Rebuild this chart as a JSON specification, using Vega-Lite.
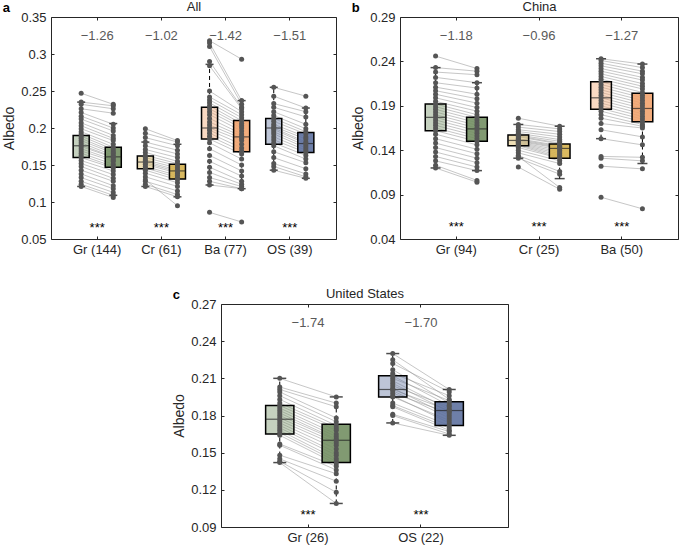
{
"$schema":"https://vega.github.io/schema/vega-lite/v6.json",
"padding":{"left":2,"top":0,"right":0,"bottom":0},
"config":{"font":"Liberation Sans","view":{"stroke":"#262626","strokeWidth":1},
"axis":{"grid":false,"domain":false,"labelFontSize":13,"titleFontSize":14,"titleFontWeight":"normal","labelColor":"#262626","titleColor":"#262626","tickColor":"#262626","tickSize":-3,"labelPadding":8},
"title":{"fontSize":13,"fontWeight":"bold","color":"#000"}},
"datasets":{
"ptsA":[
{"g":"Gr (144)","i":1,"Before":0.247,"After":0.232},{"g":"Gr (144)","i":2,"Before":0.235,"After":0.230},{"g":"Gr (144)","i":3,"Before":0.232,"After":0.226},{"g":"Gr (144)","i":4,"Before":0.226,"After":0.220},{"g":"Gr (144)","i":5,"Before":0.221,"After":0.205},{"g":"Gr (144)","i":6,"Before":0.216,"After":0.200},{"g":"Gr (144)","i":7,"Before":0.212,"After":0.196},{"g":"Gr (144)","i":8,"Before":0.207,"After":0.190},{"g":"Gr (144)","i":9,"Before":0.203,"After":0.186},{"g":"Gr (144)","i":10,"Before":0.199,"After":0.183},{"g":"Gr (144)","i":11,"Before":0.195,"After":0.178},{"g":"Gr (144)","i":12,"Before":0.192,"After":0.174},{"g":"Gr (144)","i":13,"Before":0.189,"After":0.171},{"g":"Gr (144)","i":14,"Before":0.186,"After":0.168},{"g":"Gr (144)","i":15,"Before":0.183,"After":0.166},{"g":"Gr (144)","i":16,"Before":0.180,"After":0.163},{"g":"Gr (144)","i":17,"Before":0.177,"After":0.161},{"g":"Gr (144)","i":18,"Before":0.175,"After":0.160},{"g":"Gr (144)","i":19,"Before":0.172,"After":0.157},{"g":"Gr (144)","i":20,"Before":0.169,"After":0.155},{"g":"Gr (144)","i":21,"Before":0.166,"After":0.151},{"g":"Gr (144)","i":22,"Before":0.163,"After":0.148},{"g":"Gr (144)","i":23,"Before":0.160,"After":0.146},{"g":"Gr (144)","i":24,"Before":0.156,"After":0.142},{"g":"Gr (144)","i":25,"Before":0.152,"After":0.137},{"g":"Gr (144)","i":26,"Before":0.148,"After":0.132},{"g":"Gr (144)","i":27,"Before":0.143,"After":0.128},{"g":"Gr (144)","i":28,"Before":0.138,"After":0.122},{"g":"Gr (144)","i":29,"Before":0.133,"After":0.118},{"g":"Gr (144)","i":30,"Before":0.128,"After":0.113},{"g":"Gr (144)","i":31,"Before":0.124,"After":0.109},{"g":"Gr (144)","i":32,"Before":0.121,"After":0.106},
{"g":"Cr (61)","i":1,"Before":0.199,"After":0.183},{"g":"Cr (61)","i":2,"Before":0.193,"After":0.181},{"g":"Cr (61)","i":3,"Before":0.187,"After":0.176},{"g":"Cr (61)","i":4,"Before":0.181,"After":0.170},{"g":"Cr (61)","i":5,"Before":0.176,"After":0.165},{"g":"Cr (61)","i":6,"Before":0.171,"After":0.160},{"g":"Cr (61)","i":7,"Before":0.167,"After":0.155},{"g":"Cr (61)","i":8,"Before":0.163,"After":0.152},{"g":"Cr (61)","i":9,"Before":0.160,"After":0.149},{"g":"Cr (61)","i":10,"Before":0.157,"After":0.146},{"g":"Cr (61)","i":11,"Before":0.155,"After":0.143},{"g":"Cr (61)","i":12,"Before":0.153,"After":0.141},{"g":"Cr (61)","i":13,"Before":0.151,"After":0.139},{"g":"Cr (61)","i":14,"Before":0.148,"After":0.136},{"g":"Cr (61)","i":15,"Before":0.146,"After":0.133},{"g":"Cr (61)","i":16,"Before":0.143,"After":0.130},{"g":"Cr (61)","i":17,"Before":0.139,"After":0.126},{"g":"Cr (61)","i":18,"Before":0.134,"After":0.121},{"g":"Cr (61)","i":19,"Before":0.128,"After":0.115},{"g":"Cr (61)","i":20,"Before":0.124,"After":0.110},{"g":"Cr (61)","i":21,"Before":0.121,"After":0.107},{"g":"Cr (61)","i":22,"Before":0.130,"After":0.095},
{"g":"Ba (77)","i":1,"Before":0.318,"After":0.293},{"g":"Ba (77)","i":2,"Before":0.315,"After":0.237},{"g":"Ba (77)","i":3,"Before":0.310,"After":0.232},{"g":"Ba (77)","i":4,"Before":0.290,"After":0.228},{"g":"Ba (77)","i":5,"Before":0.284,"After":0.226},{"g":"Ba (77)","i":6,"Before":0.250,"After":0.222},{"g":"Ba (77)","i":7,"Before":0.242,"After":0.218},{"g":"Ba (77)","i":8,"Before":0.238,"After":0.214},{"g":"Ba (77)","i":9,"Before":0.234,"After":0.210},{"g":"Ba (77)","i":10,"Before":0.230,"After":0.206},{"g":"Ba (77)","i":11,"Before":0.226,"After":0.203},{"g":"Ba (77)","i":12,"Before":0.222,"After":0.200},{"g":"Ba (77)","i":13,"Before":0.218,"After":0.196},{"g":"Ba (77)","i":14,"Before":0.213,"After":0.192},{"g":"Ba (77)","i":15,"Before":0.208,"After":0.189},{"g":"Ba (77)","i":16,"Before":0.204,"After":0.186},{"g":"Ba (77)","i":17,"Before":0.200,"After":0.183},{"g":"Ba (77)","i":18,"Before":0.197,"After":0.178},{"g":"Ba (77)","i":19,"Before":0.193,"After":0.173},{"g":"Ba (77)","i":20,"Before":0.189,"After":0.169},{"g":"Ba (77)","i":21,"Before":0.185,"After":0.165},{"g":"Ba (77)","i":22,"Before":0.180,"After":0.158},{"g":"Ba (77)","i":23,"Before":0.172,"After":0.150},{"g":"Ba (77)","i":24,"Before":0.163,"After":0.142},{"g":"Ba (77)","i":25,"Before":0.155,"After":0.135},{"g":"Ba (77)","i":26,"Before":0.147,"After":0.128},{"g":"Ba (77)","i":27,"Before":0.140,"After":0.124},{"g":"Ba (77)","i":28,"Before":0.133,"After":0.121},{"g":"Ba (77)","i":29,"Before":0.128,"After":0.118},{"g":"Ba (77)","i":30,"Before":0.123,"After":0.118},{"g":"Ba (77)","i":31,"Before":0.086,"After":0.073},
{"g":"OS (39)","i":1,"Before":0.255,"After":0.243},{"g":"OS (39)","i":2,"Before":0.243,"After":0.227},{"g":"OS (39)","i":3,"Before":0.233,"After":0.222},{"g":"OS (39)","i":4,"Before":0.228,"After":0.215},{"g":"OS (39)","i":5,"Before":0.222,"After":0.205},{"g":"OS (39)","i":6,"Before":0.217,"After":0.199},{"g":"OS (39)","i":7,"Before":0.213,"After":0.195},{"g":"OS (39)","i":8,"Before":0.209,"After":0.192},{"g":"OS (39)","i":9,"Before":0.205,"After":0.188},{"g":"OS (39)","i":10,"Before":0.202,"After":0.185},{"g":"OS (39)","i":11,"Before":0.200,"After":0.181},{"g":"OS (39)","i":12,"Before":0.198,"After":0.179},{"g":"OS (39)","i":13,"Before":0.195,"After":0.176},{"g":"OS (39)","i":14,"Before":0.192,"After":0.173},{"g":"OS (39)","i":15,"Before":0.188,"After":0.170},{"g":"OS (39)","i":16,"Before":0.184,"After":0.167},{"g":"OS (39)","i":17,"Before":0.180,"After":0.163},{"g":"OS (39)","i":18,"Before":0.176,"After":0.158},{"g":"OS (39)","i":19,"Before":0.168,"After":0.153},{"g":"OS (39)","i":20,"Before":0.160,"After":0.145},{"g":"OS (39)","i":21,"Before":0.152,"After":0.138},{"g":"OS (39)","i":22,"Before":0.148,"After":0.134},{"g":"OS (39)","i":23,"Before":0.143,"After":0.132}
],
"boxA":[
{"g":"Gr (144)","cat":"Gr","period":"Before","lo":0.121,"q1":0.160,"med":0.176,"q3":0.190,"hi":0.235},
{"g":"Gr (144)","cat":"Gr","period":"After","lo":0.109,"q1":0.147,"med":0.161,"q3":0.174,"hi":0.206},
{"g":"Cr (61)","cat":"Cr","period":"Before","lo":0.121,"q1":0.145,"med":0.154,"q3":0.162,"hi":0.181},
{"g":"Cr (61)","cat":"Cr","period":"After","lo":0.107,"q1":0.131,"med":0.142,"q3":0.151,"hi":0.178},
{"g":"Ba (77)","cat":"Ba","period":"Before","lo":0.123,"q1":0.185,"med":0.200,"q3":0.228,"hi":0.286},
{"g":"Ba (77)","cat":"Ba","period":"After","lo":0.118,"q1":0.168,"med":0.188,"q3":0.210,"hi":0.237},
{"g":"OS (39)","cat":"OS","period":"Before","lo":0.143,"q1":0.178,"med":0.200,"q3":0.213,"hi":0.255},
{"g":"OS (39)","cat":"OS","period":"After","lo":0.132,"q1":0.167,"med":0.179,"q3":0.194,"hi":0.227}
],
"labA":[{"g":"Gr (144)","d":"−1.26","s":"***"},{"g":"Cr (61)","d":"−1.02","s":"***"},{"g":"Ba (77)","d":"−1.42","s":"***"},{"g":"OS (39)","d":"−1.51","s":"***"}],
"ptsB":[
{"g":"Gr (94)","i":1,"Before":0.246,"After":0.232},{"g":"Gr (94)","i":2,"Before":0.233,"After":0.229},{"g":"Gr (94)","i":3,"Before":0.228,"After":0.225},{"g":"Gr (94)","i":4,"Before":0.222,"After":0.216},{"g":"Gr (94)","i":5,"Before":0.216,"After":0.210},{"g":"Gr (94)","i":6,"Before":0.211,"After":0.203},{"g":"Gr (94)","i":7,"Before":0.207,"After":0.198},{"g":"Gr (94)","i":8,"Before":0.203,"After":0.193},{"g":"Gr (94)","i":9,"Before":0.199,"After":0.188},{"g":"Gr (94)","i":10,"Before":0.195,"After":0.184},{"g":"Gr (94)","i":11,"Before":0.192,"After":0.180},{"g":"Gr (94)","i":12,"Before":0.189,"After":0.177},{"g":"Gr (94)","i":13,"Before":0.186,"After":0.174},{"g":"Gr (94)","i":14,"Before":0.183,"After":0.171},{"g":"Gr (94)","i":15,"Before":0.180,"After":0.168},{"g":"Gr (94)","i":16,"Before":0.177,"After":0.165},{"g":"Gr (94)","i":17,"Before":0.174,"After":0.162},{"g":"Gr (94)","i":18,"Before":0.171,"After":0.159},{"g":"Gr (94)","i":19,"Before":0.168,"After":0.156},{"g":"Gr (94)","i":20,"Before":0.165,"After":0.153},{"g":"Gr (94)","i":21,"Before":0.162,"After":0.150},{"g":"Gr (94)","i":22,"Before":0.158,"After":0.146},{"g":"Gr (94)","i":23,"Before":0.153,"After":0.141},{"g":"Gr (94)","i":24,"Before":0.148,"After":0.136},{"g":"Gr (94)","i":25,"Before":0.143,"After":0.131},{"g":"Gr (94)","i":26,"Before":0.138,"After":0.126},{"g":"Gr (94)","i":27,"Before":0.133,"After":0.121},{"g":"Gr (94)","i":28,"Before":0.128,"After":0.117},{"g":"Gr (94)","i":29,"Before":0.123,"After":0.106},{"g":"Gr (94)","i":30,"Before":0.120,"After":0.104},
{"g":"Cr (25)","i":1,"Before":0.176,"After":0.167},{"g":"Cr (25)","i":2,"Before":0.169,"After":0.164},{"g":"Cr (25)","i":3,"Before":0.166,"After":0.161},{"g":"Cr (25)","i":4,"Before":0.163,"After":0.158},{"g":"Cr (25)","i":5,"Before":0.161,"After":0.155},{"g":"Cr (25)","i":6,"Before":0.159,"After":0.152},{"g":"Cr (25)","i":7,"Before":0.157,"After":0.150},{"g":"Cr (25)","i":8,"Before":0.156,"After":0.148},{"g":"Cr (25)","i":9,"Before":0.155,"After":0.147},{"g":"Cr (25)","i":10,"Before":0.153,"After":0.145},{"g":"Cr (25)","i":11,"Before":0.152,"After":0.144},{"g":"Cr (25)","i":12,"Before":0.151,"After":0.143},{"g":"Cr (25)","i":13,"Before":0.150,"After":0.142},{"g":"Cr (25)","i":14,"Before":0.149,"After":0.140},{"g":"Cr (25)","i":15,"Before":0.148,"After":0.138},{"g":"Cr (25)","i":16,"Before":0.147,"After":0.136},{"g":"Cr (25)","i":17,"Before":0.146,"After":0.134},{"g":"Cr (25)","i":18,"Before":0.145,"After":0.132},{"g":"Cr (25)","i":19,"Before":0.143,"After":0.131},{"g":"Cr (25)","i":20,"Before":0.140,"After":0.128},{"g":"Cr (25)","i":21,"Before":0.137,"After":0.125},{"g":"Cr (25)","i":22,"Before":0.134,"After":0.116},{"g":"Cr (25)","i":23,"Before":0.131,"After":0.113},{"g":"Cr (25)","i":24,"Before":0.133,"After":0.098},{"g":"Cr (25)","i":25,"Before":0.121,"After":0.096},
{"g":"Ba (50)","i":1,"Before":0.243,"After":0.237},{"g":"Ba (50)","i":2,"Before":0.241,"After":0.233},{"g":"Ba (50)","i":3,"Before":0.238,"After":0.229},{"g":"Ba (50)","i":4,"Before":0.235,"After":0.226},{"g":"Ba (50)","i":5,"Before":0.232,"After":0.222},{"g":"Ba (50)","i":6,"Before":0.229,"After":0.219},{"g":"Ba (50)","i":7,"Before":0.226,"After":0.215},{"g":"Ba (50)","i":8,"Before":0.223,"After":0.212},{"g":"Ba (50)","i":9,"Before":0.220,"After":0.209},{"g":"Ba (50)","i":10,"Before":0.217,"After":0.205},{"g":"Ba (50)","i":11,"Before":0.214,"After":0.202},{"g":"Ba (50)","i":12,"Before":0.211,"After":0.199},{"g":"Ba (50)","i":13,"Before":0.208,"After":0.196},{"g":"Ba (50)","i":14,"Before":0.205,"After":0.193},{"g":"Ba (50)","i":15,"Before":0.202,"After":0.190},{"g":"Ba (50)","i":16,"Before":0.199,"After":0.187},{"g":"Ba (50)","i":17,"Before":0.196,"After":0.184},{"g":"Ba (50)","i":18,"Before":0.193,"After":0.181},{"g":"Ba (50)","i":19,"Before":0.190,"After":0.178},{"g":"Ba (50)","i":20,"Before":0.187,"After":0.175},{"g":"Ba (50)","i":21,"Before":0.184,"After":0.172},{"g":"Ba (50)","i":22,"Before":0.180,"After":0.169},{"g":"Ba (50)","i":23,"Before":0.176,"After":0.167},{"g":"Ba (50)","i":24,"Before":0.170,"After":0.165},{"g":"Ba (50)","i":25,"Before":0.163,"After":0.155},{"g":"Ba (50)","i":26,"Before":0.153,"After":0.146},{"g":"Ba (50)","i":27,"Before":0.133,"After":0.132},{"g":"Ba (50)","i":28,"Before":0.131,"After":0.128},{"g":"Ba (50)","i":29,"Before":0.122,"After":0.119},{"g":"Ba (50)","i":30,"Before":0.087,"After":0.074}
],
"boxB":[
{"g":"Gr (94)","cat":"Gr","period":"Before","lo":0.120,"q1":0.162,"med":0.177,"q3":0.192,"hi":0.233},
{"g":"Gr (94)","cat":"Gr","period":"After","lo":0.117,"q1":0.150,"med":0.164,"q3":0.177,"hi":0.216},
{"g":"Cr (25)","cat":"Cr","period":"Before","lo":0.131,"q1":0.145,"med":0.151,"q3":0.157,"hi":0.169},
{"g":"Cr (25)","cat":"Cr","period":"After","lo":0.108,"q1":0.131,"med":0.142,"q3":0.147,"hi":0.167},
{"g":"Ba (50)","cat":"Ba","period":"Before","lo":0.153,"q1":0.186,"med":0.199,"q3":0.217,"hi":0.243},
{"g":"Ba (50)","cat":"Ba","period":"After","lo":0.125,"q1":0.172,"med":0.187,"q3":0.204,"hi":0.237}
],
"labB":[{"g":"Gr (94)","d":"−1.18","s":"***"},{"g":"Cr (25)","d":"−0.96","s":"***"},{"g":"Ba (50)","d":"−1.27","s":"***"}],
"ptsC":[
{"g":"Gr (26)","i":1,"Before":0.210,"After":0.195},{"g":"Gr (26)","i":2,"Before":0.203,"After":0.190},{"g":"Gr (26)","i":3,"Before":0.201,"After":0.187},{"g":"Gr (26)","i":4,"Before":0.199,"After":0.178},{"g":"Gr (26)","i":5,"Before":0.196,"After":0.175},{"g":"Gr (26)","i":6,"Before":0.193,"After":0.172},{"g":"Gr (26)","i":7,"Before":0.190,"After":0.170},{"g":"Gr (26)","i":8,"Before":0.188,"After":0.168},{"g":"Gr (26)","i":9,"Before":0.186,"After":0.165},{"g":"Gr (26)","i":10,"Before":0.184,"After":0.163},{"g":"Gr (26)","i":11,"Before":0.182,"After":0.161},{"g":"Gr (26)","i":12,"Before":0.180,"After":0.160},{"g":"Gr (26)","i":13,"Before":0.178,"After":0.158},{"g":"Gr (26)","i":14,"Before":0.176,"After":0.156},{"g":"Gr (26)","i":15,"Before":0.174,"After":0.153},{"g":"Gr (26)","i":16,"Before":0.172,"After":0.150},{"g":"Gr (26)","i":17,"Before":0.170,"After":0.148},{"g":"Gr (26)","i":18,"Before":0.168,"After":0.145},{"g":"Gr (26)","i":19,"Before":0.166,"After":0.143},{"g":"Gr (26)","i":20,"Before":0.164,"After":0.141},{"g":"Gr (26)","i":21,"Before":0.157,"After":0.139},{"g":"Gr (26)","i":22,"Before":0.156,"After":0.136},{"g":"Gr (26)","i":23,"Before":0.148,"After":0.133},{"g":"Gr (26)","i":24,"Before":0.145,"After":0.127},{"g":"Gr (26)","i":25,"Before":0.143,"After":0.118},{"g":"Gr (26)","i":26,"Before":0.142,"After":0.109},
{"g":"OS (22)","i":1,"Before":0.230,"After":0.201},{"g":"OS (22)","i":2,"Before":0.225,"After":0.193},{"g":"OS (22)","i":3,"Before":0.222,"After":0.199},{"g":"OS (22)","i":4,"Before":0.217,"After":0.190},{"g":"OS (22)","i":5,"Before":0.214,"After":0.196},{"g":"OS (22)","i":6,"Before":0.212,"After":0.188},{"g":"OS (22)","i":7,"Before":0.210,"After":0.192},{"g":"OS (22)","i":8,"Before":0.208,"After":0.185},{"g":"OS (22)","i":9,"Before":0.206,"After":0.183},{"g":"OS (22)","i":10,"Before":0.204,"After":0.187},{"g":"OS (22)","i":11,"Before":0.202,"After":0.180},{"g":"OS (22)","i":12,"Before":0.201,"After":0.184},{"g":"OS (22)","i":13,"Before":0.200,"After":0.178},{"g":"OS (22)","i":14,"Before":0.198,"After":0.182},{"g":"OS (22)","i":15,"Before":0.196,"After":0.174},{"g":"OS (22)","i":16,"Before":0.195,"After":0.176},{"g":"OS (22)","i":17,"Before":0.190,"After":0.172},{"g":"OS (22)","i":18,"Before":0.188,"After":0.170},{"g":"OS (22)","i":19,"Before":0.187,"After":0.168},{"g":"OS (22)","i":20,"Before":0.181,"After":0.167},{"g":"OS (22)","i":21,"Before":0.180,"After":0.165},{"g":"OS (22)","i":22,"Before":0.174,"After":0.164}
],
"boxC":[
{"g":"Gr (26)","cat":"Gr","period":"Before","lo":0.142,"q1":0.165,"med":0.177,"q3":0.188,"hi":0.210},
{"g":"Gr (26)","cat":"Gr","period":"After","lo":0.109,"q1":0.142,"med":0.160,"q3":0.173,"hi":0.195},
{"g":"OS (22)","cat":"OS","period":"Before","lo":0.174,"q1":0.195,"med":0.201,"q3":0.212,"hi":0.230},
{"g":"OS (22)","cat":"OS","period":"After","lo":0.164,"q1":0.172,"med":0.184,"q3":0.191,"hi":0.201}
],
"labC":[{"g":"Gr (26)","d":"−1.74","s":"***"},{"g":"OS (22)","d":"−1.70","s":"***"}]
},
"vconcat":[
{"hconcat":[
{"width":285,"height":222,
"title":{"text":"a","anchor":"start","frame":"bounds","offset":-14},
"layer":[
{"data":{"name":"ptsA"},"transform":[{"fold":["Before","After"],"as":["period","albedo"]}],
"mark":{"type":"line","stroke":"#8f8f8f","strokeWidth":0.6,"opacity":0.85},
"encoding":{"x":{"field":"g","type":"nominal","axis":null,"scale":{"domain":["Gr (144)","Cr (61)","Ba (77)","OS (39)"],"paddingInner":0,"paddingOuter":0.22}},
"xOffset":{"field":"period","type":"nominal","scale":{"domain":["Before","After"],"paddingInner":0.5,"paddingOuter":0.25}},
"y":{"field":"albedo","type":"quantitative","axis":null,"scale":{"domain":[0.05,0.35],"nice":false,"zero":false}},
"detail":[{"field":"g"},{"field":"i"}]}},
{"data":{"name":"boxA"},"mark":{"type":"rule","color":"#000","strokeDash":[4,3],"strokeWidth":1},
"encoding":{"x":{"field":"g","type":"nominal","axis":null},"xOffset":{"field":"period","type":"nominal"},"y":{"field":"lo","type":"quantitative","axis":null},"y2":{"field":"hi"}}},
{"data":{"name":"boxA"},"mark":{"type":"bar","stroke":"#000","strokeWidth":1.5},
"encoding":{"x":{"field":"g","type":"nominal","axis":{"orient":"bottom","title":null,"labelAngle":0,"labelPadding":7}},"xOffset":{"field":"period","type":"nominal"},
"y":{"field":"q1","type":"quantitative","axis":{"orient":"left","title":"Albedo","values":[0.05,0.1,0.15,0.2,0.25,0.3,0.35],"format":".2~f","titlePadding":4}},"y2":{"field":"q3"},
"color":{"field":"cat","type":"nominal","legend":null,"scale":{"domain":["Gr","Cr","Ba","OS"],"range":["#6f8c5f","#d4af4a","#f0a06a","#5a6d9c"]}},
"fillOpacity":{"field":"period","type":"nominal","legend":null,"scale":{"domain":["Before","After"],"range":[0.4,0.88]}}}},
{"data":{"name":"boxA"},"mark":{"type":"tick","color":"#222","thickness":1.2,"size":16},
"encoding":{"x":{"field":"g","type":"nominal","axis":null},"xOffset":{"field":"period","type":"nominal"},"y":{"field":"med","type":"quantitative","axis":null}}},
{"data":{"name":"boxA"},"mark":{"type":"tick","color":"#000","thickness":1.5,"size":8},
"encoding":{"x":{"field":"g","type":"nominal","axis":null},"xOffset":{"field":"period","type":"nominal"},"y":{"field":"lo","type":"quantitative","axis":null}}},
{"data":{"name":"boxA"},"mark":{"type":"tick","color":"#000","thickness":1.5,"size":8},
"encoding":{"x":{"field":"g","type":"nominal","axis":{"orient":"top","labels":false,"title":"All","titleFontSize":13,"titlePadding":3}},"xOffset":{"field":"period","type":"nominal"},"y":{"field":"hi","type":"quantitative","axis":{"orient":"right","labels":false,"title":null,"values":[0.05,0.1,0.15,0.2,0.25,0.3,0.35]}}}},
{"data":{"name":"ptsA"},"transform":[{"fold":["Before","After"],"as":["period","albedo"]}],
"mark":{"type":"circle","size":25,"color":"#555555","opacity":1},
"encoding":{"x":{"field":"g","type":"nominal","axis":null},"xOffset":{"field":"period","type":"nominal"},"y":{"field":"albedo","type":"quantitative","axis":null}}},
{"data":{"name":"labA"},"mark":{"type":"text","fontSize":13,"color":"#595959"},
"encoding":{"x":{"field":"g","type":"nominal","axis":null},"y":{"datum":0.325,"type":"quantitative","axis":null},"text":{"field":"d"}}},
{"data":{"name":"labA"},"mark":{"type":"text","fontSize":13,"color":"#000"},
"encoding":{"x":{"field":"g","type":"nominal","axis":null},"y":{"datum":0.065,"type":"quantitative","axis":null},"text":{"field":"s"}}}
],
"resolve":{"axis":{"x":"independent","y":"independent"}}},
{"width":278,"height":222,
"title":{"text":"b","anchor":"start","frame":"bounds","offset":-14},
"layer":[
{"data":{"name":"ptsB"},"transform":[{"fold":["Before","After"],"as":["period","albedo"]}],
"mark":{"type":"line","stroke":"#8f8f8f","strokeWidth":0.6,"opacity":0.85},
"encoding":{"x":{"field":"g","type":"nominal","axis":null,"scale":{"domain":["Gr (94)","Cr (25)","Ba (50)"],"paddingInner":0,"paddingOuter":0.18}},
"xOffset":{"field":"period","type":"nominal","scale":{"domain":["Before","After"],"paddingInner":0.5,"paddingOuter":0.25}},
"y":{"field":"albedo","type":"quantitative","axis":null,"scale":{"domain":[0.04,0.29],"nice":false,"zero":false}},
"detail":[{"field":"g"},{"field":"i"}]}},
{"data":{"name":"boxB"},"mark":{"type":"rule","color":"#000","strokeDash":[4,3],"strokeWidth":1},
"encoding":{"x":{"field":"g","type":"nominal","axis":null},"xOffset":{"field":"period","type":"nominal"},"y":{"field":"lo","type":"quantitative","axis":null},"y2":{"field":"hi"}}},
{"data":{"name":"boxB"},"mark":{"type":"bar","stroke":"#000","strokeWidth":1.5},
"encoding":{"x":{"field":"g","type":"nominal","axis":{"orient":"bottom","title":null,"labelAngle":0,"labelPadding":7}},"xOffset":{"field":"period","type":"nominal"},
"y":{"field":"q1","type":"quantitative","axis":{"orient":"left","title":"Albedo","values":[0.04,0.09,0.14,0.19,0.24,0.29],"format":".2~f","titlePadding":4}},"y2":{"field":"q3"},
"color":{"field":"cat","type":"nominal","legend":null,"scale":{"domain":["Gr","Cr","Ba","OS"],"range":["#6f8c5f","#d4af4a","#f0a06a","#5a6d9c"]}},
"fillOpacity":{"field":"period","type":"nominal","legend":null,"scale":{"domain":["Before","After"],"range":[0.4,0.88]}}}},
{"data":{"name":"boxB"},"mark":{"type":"tick","color":"#222","thickness":1.2,"size":20.5},
"encoding":{"x":{"field":"g","type":"nominal","axis":null},"xOffset":{"field":"period","type":"nominal"},"y":{"field":"med","type":"quantitative","axis":null}}},
{"data":{"name":"boxB"},"mark":{"type":"tick","color":"#000","thickness":1.5,"size":10},
"encoding":{"x":{"field":"g","type":"nominal","axis":null},"xOffset":{"field":"period","type":"nominal"},"y":{"field":"lo","type":"quantitative","axis":null}}},
{"data":{"name":"boxB"},"mark":{"type":"tick","color":"#000","thickness":1.5,"size":10},
"encoding":{"x":{"field":"g","type":"nominal","axis":{"orient":"top","labels":false,"title":"China","titleFontSize":13,"titlePadding":3}},"xOffset":{"field":"period","type":"nominal"},"y":{"field":"hi","type":"quantitative","axis":{"orient":"right","labels":false,"title":null,"values":[0.04,0.09,0.14,0.19,0.24,0.29]}}}},
{"data":{"name":"ptsB"},"transform":[{"fold":["Before","After"],"as":["period","albedo"]}],
"mark":{"type":"circle","size":25,"color":"#555555","opacity":1},
"encoding":{"x":{"field":"g","type":"nominal","axis":null},"xOffset":{"field":"period","type":"nominal"},"y":{"field":"albedo","type":"quantitative","axis":null}}},
{"data":{"name":"labB"},"mark":{"type":"text","fontSize":13,"color":"#595959"},
"encoding":{"x":{"field":"g","type":"nominal","axis":null},"y":{"datum":0.269,"type":"quantitative","axis":null},"text":{"field":"d"}}},
{"data":{"name":"labB"},"mark":{"type":"text","fontSize":13,"color":"#000"},
"encoding":{"x":{"field":"g","type":"nominal","axis":null},"y":{"datum":0.054,"type":"quantitative","axis":null},"text":{"field":"s"}}}
],
"resolve":{"axis":{"x":"independent","y":"independent"}}}
],"spacing":14,"resolve":{"scale":{"xOffset":"independent"}}},
{"width":287,"height":223,
"title":{"text":"c","anchor":"start","frame":"bounds","offset":-14},
"layer":[
{"data":{"name":"ptsC"},"transform":[{"fold":["Before","After"],"as":["period","albedo"]}],
"mark":{"type":"line","stroke":"#8f8f8f","strokeWidth":0.6,"opacity":0.85},
"encoding":{"x":{"field":"g","type":"nominal","axis":null,"scale":{"domain":["Gr (26)","OS (22)"],"paddingInner":0,"paddingOuter":0.27}},
"xOffset":{"field":"period","type":"nominal","scale":{"domain":["Before","After"],"paddingInner":0.5,"paddingOuter":0.25}},
"y":{"field":"albedo","type":"quantitative","axis":null,"scale":{"domain":[0.09,0.27],"nice":false,"zero":false}},
"detail":[{"field":"g"},{"field":"i"}]}},
{"data":{"name":"boxC"},"mark":{"type":"rule","color":"#000","strokeDash":[4,3],"strokeWidth":1},
"encoding":{"x":{"field":"g","type":"nominal","axis":null},"xOffset":{"field":"period","type":"nominal"},"y":{"field":"lo","type":"quantitative","axis":null},"y2":{"field":"hi"}}},
{"data":{"name":"boxC"},"mark":{"type":"bar","stroke":"#000","strokeWidth":1.5},
"encoding":{"x":{"field":"g","type":"nominal","axis":{"orient":"bottom","title":null,"labelAngle":0,"labelPadding":7}},"xOffset":{"field":"period","type":"nominal"},
"y":{"field":"q1","type":"quantitative","axis":{"orient":"left","title":"Albedo","values":[0.09,0.12,0.15,0.18,0.21,0.24,0.27],"format":".2~f","titlePadding":4}},"y2":{"field":"q3"},
"color":{"field":"cat","type":"nominal","legend":null,"scale":{"domain":["Gr","Cr","Ba","OS"],"range":["#6f8c5f","#d4af4a","#f0a06a","#5a6d9c"]}},
"fillOpacity":{"field":"period","type":"nominal","legend":null,"scale":{"domain":["Before","After"],"range":[0.4,0.88]}}}},
{"data":{"name":"boxC"},"mark":{"type":"tick","color":"#222","thickness":1.2,"size":28},
"encoding":{"x":{"field":"g","type":"nominal","axis":null},"xOffset":{"field":"period","type":"nominal"},"y":{"field":"med","type":"quantitative","axis":null}}},
{"data":{"name":"boxC"},"mark":{"type":"tick","color":"#000","thickness":1.5,"size":13},
"encoding":{"x":{"field":"g","type":"nominal","axis":null},"xOffset":{"field":"period","type":"nominal"},"y":{"field":"lo","type":"quantitative","axis":null}}},
{"data":{"name":"boxC"},"mark":{"type":"tick","color":"#000","thickness":1.5,"size":13},
"encoding":{"x":{"field":"g","type":"nominal","axis":{"orient":"top","labels":false,"title":"United States","titleFontSize":13,"titlePadding":3}},"xOffset":{"field":"period","type":"nominal"},"y":{"field":"hi","type":"quantitative","axis":{"orient":"right","labels":false,"title":null,"values":[0.09,0.12,0.15,0.18,0.21,0.24,0.27]}}}},
{"data":{"name":"ptsC"},"transform":[{"fold":["Before","After"],"as":["period","albedo"]}],
"mark":{"type":"circle","size":25,"color":"#555555","opacity":1},
"encoding":{"x":{"field":"g","type":"nominal","axis":null},"xOffset":{"field":"period","type":"nominal"},"y":{"field":"albedo","type":"quantitative","axis":null}}},
{"data":{"name":"labC"},"mark":{"type":"text","fontSize":13,"color":"#595959"},
"encoding":{"x":{"field":"g","type":"nominal","axis":null},"y":{"datum":0.2546,"type":"quantitative","axis":null},"text":{"field":"d"}}},
{"data":{"name":"labC"},"mark":{"type":"text","fontSize":13,"color":"#000"},
"encoding":{"x":{"field":"g","type":"nominal","axis":null},"y":{"datum":0.1,"type":"quantitative","axis":null},"text":{"field":"s"}}}
],
"resolve":{"axis":{"x":"independent","y":"independent"}}}
],
"spacing":30,
"center":true,
"resolve":{"scale":{"xOffset":"independent"}}
}
